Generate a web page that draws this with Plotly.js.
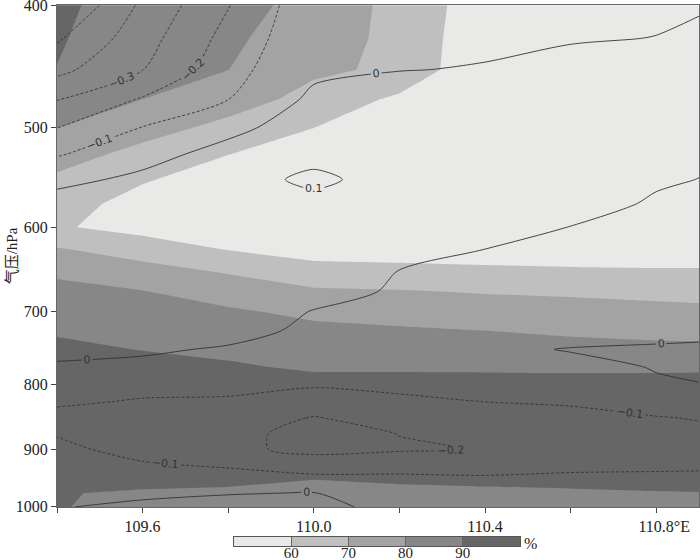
<!DOCTYPE html>
<html><head><meta charset="utf-8">
<script src="https://cdn.plot.ly/plotly-3.0.1.min.js"></script>
<style>html,body{margin:0;padding:0;background:#fff}</style>
</head><body><div id="chart" style="width:700px;height:560px"></div>
<script>
// longitude (°E) and pressure (hPa) grid
const lon = [109.4, 109.6, 109.8, 110.0, 110.2, 110.4, 110.6, 110.8, 110.9];
const pres = [400, 425, 450, 475, 500, 525, 550, 575, 600, 625, 650, 675, 700, 725, 750, 775, 800, 825, 850, 875, 900, 925, 950, 975, 1000];

// relative humidity (%) — one row per pressure level
const rh = [
  [92, 85, 84, 76.4, 67.1, 54.4, 52, 52, 52],
  [91, 83.5, 82, 73.9, 67.8, 52.5, 50, 50, 50],
  [89.8, 82, 80.1, 71.5, 68.5, 50.7, 48, 48, 48],
  [85, 80, 74.1, 67.1, 57.9, 48, 45, 45, 45],
  [80.2, 73.6, 67.6, 60.2, 50.3, 45, 45, 45, 45],
  [73.8, 67.4, 60.3, 52.6, 45, 45, 45, 45, 45],
  [68.5, 61.4, 52.7, 45.1, 45, 45, 45, 45, 45],
  [66.5, 54.2, 45.2, 45, 45, 45, 45, 45, 45],
  [61, 56.7, 52.1, 48.2, 47.7, 47, 46.4, 46.1, 46.1],
  [70.9, 65.4, 59.7, 55.8, 55.2, 54.5, 53.9, 53.6, 53.6],
  [78.5, 73.7, 68.9, 63.7, 63.0, 62.1, 61.4, 61.0, 61.0],
  [82.4, 80.4, 75.9, 71.5, 70.7, 69.4, 68.6, 67.4, 66.9],
  [85.4, 83.4, 81.25, 77.9, 76.2, 74.8, 73.8, 72.8, 72.3],
  [88.3, 86.5, 84.4, 82.2, 81.2, 80.05, 78.5, 77.4, 77.1],
  [93.3, 89.5, 87.5, 85.3, 84.8, 84.1, 83.2, 82.4, 82.3],
  [97, 96.4, 91.5, 88.5, 88.4, 88.2, 87.9, 87.8, 88],
  [97, 97, 97, 93.9, 94.2, 94.2, 94.2, 94.5, 94.8],
  [97, 97, 97, 97, 97, 97, 97, 97, 97],
  [97, 97, 97, 97, 97, 97, 97, 97, 97],
  [97, 97, 97, 97, 97, 97, 97, 97, 97],
  [97, 97, 97, 97, 97, 97, 97, 97, 97],
  [97, 97, 97, 97, 97, 97, 97, 97, 97],
  [93, 95.5, 92.7, 90.2, 91.5, 93, 94.5, 96.4, 97],
  [90.9, 88, 88, 87, 87.5, 87.5, 88, 89, 89.4],
  [91.0, 85, 85, 85, 85, 85, 85, 85, 85]
];

// vertical velocity (contour lines) — one row per pressure level
const omega = [
  [-0.62, -0.38, -0.205, -0.03, -0.04, -0.04, -0.03, -0.02, -0.01],
  [-0.513, -0.341, -0.167, -0.025, -0.022, -0.019, -0.0095, 0.002, 0.02],
  [-0.428, -0.302, -0.133, -0.02, -0.0034, 0.006, 0.04, 0.05, 0.05],
  [-0.304, -0.191, -0.101, 0.02, 0.061, 0.07, 0.07, 0.07, 0.06],
  [-0.203, -0.098, -0.032, 0.06, 0.08, 0.08, 0.08, 0.07, 0.05],
  [-0.108, -0.04, 0.04, 0.085, 0.08, 0.08, 0.08, 0.05, 0.025],
  [-0.03, 0.024, 0.08, 0.11, 0.08, 0.08, 0.08, 0.02, -0.002],
  [0.045, 0.07, 0.08, 0.085, 0.08, 0.08, 0.067, -0.02, -0.02],
  [0.06, 0.08, 0.08, 0.07, 0.08, 0.068, -0.003, -0.04, -0.04],
  [0.06, 0.08, 0.08, 0.07, 0.063, -0.0012, -0.03, -0.045, -0.04],
  [0.06, 0.08, 0.08, 0.07, -0.0023, -0.0135, -0.045, -0.045, -0.04],
  [0.06, 0.08, 0.08, 0.05, -0.017, -0.026, -0.05, -0.045, -0.04],
  [0.06, 0.08, 0.08, -0.0057, -0.031, -0.038, -0.05, -0.045, -0.04],
  [0.06, 0.08, 0.044, -0.027, -0.045, -0.05, -0.05, -0.03, -0.02],
  [0.036, 0.018, -0.013, -0.049, -0.06, -0.021, 0.005, 0.012, 0.013],
  [-0.018, -0.03, -0.046, -0.07, -0.074, -0.075, -0.026, 0.004, 0.012],
  [-0.051, -0.069, -0.078, -0.091, -0.089, -0.087, -0.057, -0.009, -0.002],
  [-0.085, -0.108, -0.11, -0.142, -0.109, -0.0995, -0.088, -0.058, -0.05],
  [-0.13, -0.15, -0.14, -0.206, -0.154, -0.13, -0.13, -0.105, -0.095],
  [-0.105, -0.16, -0.16, -0.245, -0.198, -0.17, -0.15, -0.13, -0.12],
  [-0.08, -0.13, -0.178, -0.225, -0.21, -0.197, -0.15, -0.13, -0.13],
  [-0.06, -0.093, -0.114, -0.155, -0.142, -0.133, -0.12, -0.11, -0.11],
  [-0.04, -0.056, -0.06, -0.074, -0.08, -0.09, -0.085, -0.09, -0.088],
  [-0.02, -0.0185, -0.006, 0.003, -0.05, -0.06, -0.06, -0.06, -0.06],
  [-0.005, 0.019, 0.04, 0.027, -0.03, -0.04, -0.04, -0.04, -0.04]
];

// colour key: band edges (%) and tick levels
const rhLevels = [60, 70, 80, 90];
const keyEdges = [50, 60, 70, 80, 90, 100];
const rhColors = ['#e9e9e7', '#bfbfbf', '#a3a3a3', '#878787', '#666666'];
const xTickVals = [109.4, 109.6, 109.8, 110.0, 110.2, 110.4, 110.6, 110.8];
const xTickText = ['', '109.6', '', '110.0', '', '110.4', '', '\u00a0\u00a0\u00a0\u00a0110.8°E'];
const yTickVals = [400, 500, 600, 700, 800, 900, 1000];

const serif = 'Liberation Serif, Noto Sans CJK SC, serif';
const labelFont = {family: 'DejaVu Sans, sans-serif', size: 11, color: '#333'};

// scale for the filled contours (Plotly samples it at band midpoints 55..95)
const fillScale = rhColors.map((c, i) => [i / (rhColors.length - 1), c]);
// stepped scale for the key (50..100)
const stepScale = [];
rhColors.forEach((c, i) => {
  stepScale.push([i / rhColors.length, c]);
  stepScale.push([(i + 1) / rhColors.length, c]);
});
const keyMid = keyEdges.slice(0, -1).map((v, i) => (v + keyEdges[i + 1]) / 2);

const rhTrace = {
  type: 'contour', x: lon, y: pres, z: rh, xaxis: 'x', yaxis: 'y',
  autocontour: false, showscale: false,
  contours: {start: rhLevels[0], end: rhLevels[rhLevels.length - 1], size: 10, coloring: 'fill', showlines: false},
  line: {width: 0, smoothing: 0},
  colorscale: fillScale,
  hoverinfo: 'skip'
};

const negTrace = {
  type: 'contour', x: lon, y: pres, z: omega, xaxis: 'x', yaxis: 'y',
  autocontour: false, showscale: false, hoverinfo: 'skip',
  contours: {start: -0.5, end: -0.1, size: 0.1, coloring: 'none', showlabels: true, labelfont: labelFont},
  line: {color: '#333', width: 0.9, dash: '3px,2px', smoothing: 0.8}
};

const posTrace = {
  type: 'contour', x: lon, y: pres, z: omega, xaxis: 'x', yaxis: 'y',
  autocontour: false, showscale: false, hoverinfo: 'skip',
  contours: {start: 0, end: 0.1, size: 0.1, coloring: 'none', showlabels: true, labelfont: labelFont},
  line: {color: '#333', width: 0.9, smoothing: 0.8}
};

// horizontal colour key drawn as a one-row heatmap on its own small axes
const keyTrace = {
  type: 'heatmap', x: keyEdges, y: [0, 1], z: [keyMid], xaxis: 'x2', yaxis: 'y2',
  zmin: keyEdges[0], zmax: keyEdges[keyEdges.length - 1], colorscale: stepScale,
  showscale: false, hoverinfo: 'skip'
};

// plot area spans y 5..555 px; main panel bottom at 507 px, key at 537..546 px
const layout = {
  width: 700, height: 560,
  margin: {l: 57, r: 1, t: 5, b: 5, autoexpand: false},
  paper_bgcolor: '#fff', plot_bgcolor: 'rgba(0,0,0,0)',
  showlegend: false,
  xaxis: {
    domain: [0, 1], anchor: 'y',
    range: [109.4, 110.9], tickvals: xTickVals, ticktext: xTickText,
    ticks: 'outside', ticklen: 5, tickcolor: '#444',
    showline: true, mirror: true, linecolor: '#666', linewidth: 1,
    showgrid: false, zeroline: false, ticklabeloverflow: 'allow',
    tickfont: {family: serif, size: 16, color: '#222'}
  },
  yaxis: {
    domain: [48 / 550, 1], anchor: 'x',
    type: 'log', range: [Math.log10(1000.2), Math.log10(399.9)],
    tickvals: yTickVals, ticktext: yTickVals.map(String),
    ticks: 'outside', ticklen: 5, tickcolor: '#444',
    showline: true, mirror: true, linecolor: '#666', linewidth: 1,
    showgrid: false, zeroline: false, ticklabeloverflow: 'allow',
    tickfont: {family: serif, size: 16, color: '#222'},
    title: {text: '气压/hPa', font: {family: serif, size: 15, color: '#222'}}
  },
  xaxis2: {
    domain: [177 / 642, 463 / 642], anchor: 'y2',
    range: [keyEdges[0], keyEdges[keyEdges.length - 1]],
    tickvals: rhLevels, ticks: 'inside', ticklen: 9, tickcolor: '#666', tickwidth: 1,
    ticklabelstandoff: -7,
    showline: true, mirror: true, linecolor: '#555', linewidth: 1,
    showgrid: false, zeroline: false, layer: 'above traces', ticklabeloverflow: 'allow',
    tickfont: {family: serif, size: 15, color: '#222'}
  },
  yaxis2: {
    domain: [9 / 550, 18 / 550], anchor: 'x2', range: [0, 1],
    showticklabels: false, ticks: '', showline: true, mirror: true, linecolor: '#555', linewidth: 1,
    showgrid: false, zeroline: false
  },
  annotations: [{
    xref: 'paper', yref: 'paper', x: 465 / 642, y: 12 / 550, xanchor: 'left', yanchor: 'middle',
    text: '%', showarrow: false, font: {family: serif, size: 16, color: '#222'}
  }]
};

Plotly.newPlot('chart', [rhTrace, negTrace, posTrace, keyTrace], layout, {displayModeBar: false, staticPlot: true});
</script></body></html>
